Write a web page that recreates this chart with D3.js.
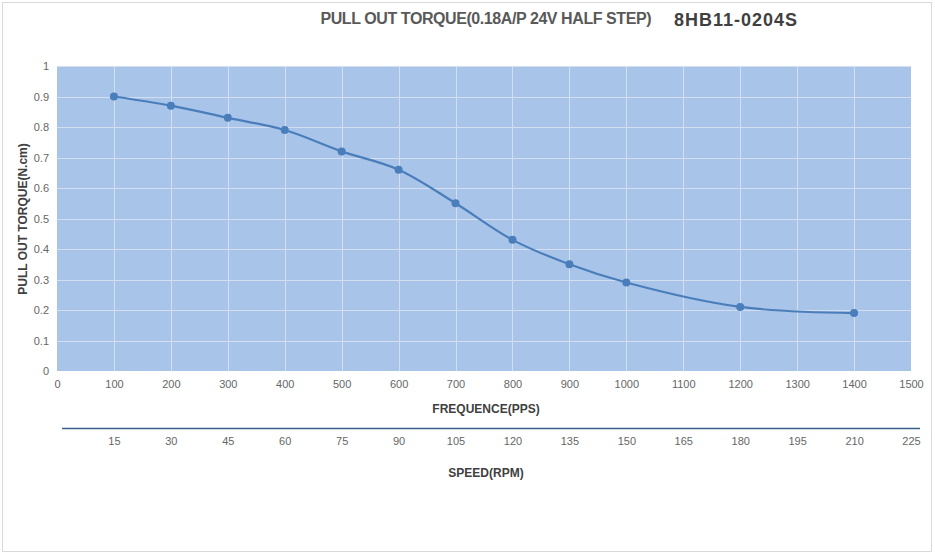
<!DOCTYPE html>
<html>
<head>
<meta charset="utf-8">
<script src="https://cdn.jsdelivr.net/npm/d3@7"></script>
<style>
  body { margin: 0; background: #fff; }
  text { font-family: "Liberation Sans Narrow", "Liberation Sans", Arial, sans-serif; }
</style>
</head>
<body>
<svg id="chart" width="935" height="557"></svg>
<script>
// chart data
var frequency = [100, 200, 300, 400, 500, 600, 700, 800, 900, 1000, 1200, 1400];
var torque = [0.9, 0.87, 0.83, 0.79, 0.72, 0.66, 0.55, 0.43, 0.35, 0.29, 0.21, 0.19];
var freqTicks = [0, 100, 200, 300, 400, 500, 600, 700, 800, 900, 1000, 1100, 1200, 1300, 1400, 1500];
var torqueTicks = [0, 0.1, 0.2, 0.3, 0.4, 0.5, 0.6, 0.7, 0.8, 0.9, 1];
var speedTicks = [15, 30, 45, 60, 75, 90, 105, 120, 135, 150, 165, 180, 195, 210, 225];

var svg = d3.select("#chart");

// outer frame
svg.append("rect")
    .attr("x", 2.5).attr("y", 2.5)
    .attr("width", 929).attr("height", 549)
    .attr("fill", "#fff")
    .attr("stroke", "#d9d9d9");

// scales
var x = d3.scaleLinear().domain([0, 1500]).range([57, 911]);
var y = d3.scaleLinear().domain([0, 1]).range([371, 66]);
var xs = d3.scaleLinear().domain([0, 225]).range([57, 911]);

// plot background
svg.append("rect")
    .attr("x", x(0)).attr("y", y(1))
    .attr("width", x(1500) - x(0)).attr("height", y(0) - y(1))
    .attr("fill", "#a9c4e9");

// grid
svg.append("g").selectAll("line.h")
    .data(torqueTicks.slice(1))
    .enter().append("line")
    .attr("x1", x(0)).attr("x2", x(1500))
    .attr("y1", function (d) { return Math.round(y(d)) + 0.5; })
    .attr("y2", function (d) { return Math.round(y(d)) + 0.5; })
    .attr("stroke", "#d3dff0").attr("stroke-width", 1);

svg.append("g").selectAll("line.v")
    .data(freqTicks.slice(1, -1))
    .enter().append("line")
    .attr("y1", y(0)).attr("y2", y(1))
    .attr("x1", function (d) { return Math.round(x(d)) + 0.5; })
    .attr("x2", function (d) { return Math.round(x(d)) + 0.5; })
    .attr("stroke", "#d3dff0").attr("stroke-width", 1);

// y axis
var yAxis = svg.append("g")
    .attr("transform", "translate(" + x(0) + ",0)")
    .call(d3.axisLeft(y).tickValues(torqueTicks).tickSize(0).tickPadding(8)
        .tickFormat(function (d) { return d === 0 || d === 1 ? d : d3.format(".1f")(d); }));
yAxis.select(".domain").remove();
yAxis.selectAll("text").attr("fill", "#666").style("font-size", "11px");

// x axis
var xAxis = svg.append("g")
    .attr("transform", "translate(0," + y(0) + ")")
    .call(d3.axisBottom(x).tickValues(freqTicks).tickSize(0).tickPadding(9)
        .tickFormat(d3.format("d")));
xAxis.select(".domain").remove();
xAxis.selectAll("text").attr("fill", "#666").style("font-size", "11px");

// speed axis
svg.append("line")
    .attr("x1", 62).attr("x2", 920)
    .attr("y1", 428.5).attr("y2", 428.5)
    .attr("stroke", "#3b5f8a").attr("stroke-width", 1.3);

var sAxis = svg.append("g")
    .attr("transform", "translate(0,428)")
    .call(d3.axisBottom(xs).tickValues(speedTicks).tickSize(0).tickPadding(9)
        .tickFormat(d3.format("d")));
sAxis.select(".domain").remove();
sAxis.selectAll("text").attr("fill", "#666").style("font-size", "11px");

// curve
var pts = frequency.map(function (f, i) { return [f, torque[i]]; });
var line = d3.line()
    .x(function (d) { return x(d[0]); })
    .y(function (d) { return y(d[1]); })
    .curve(d3.curveCatmullRom.alpha(0.5));

svg.append("path")
    .datum(pts)
    .attr("d", line)
    .attr("fill", "none")
    .attr("stroke", "#4a7ebb")
    .attr("stroke-width", 2.2);

svg.append("g").selectAll("circle")
    .data(pts)
    .enter().append("circle")
    .attr("cx", function (d) { return x(d[0]); })
    .attr("cy", function (d) { return y(d[1]); })
    .attr("r", 4)
    .attr("fill", "#4a7ebb");

// titles
svg.append("text")
    .attr("x", 486).attr("y", 24)
    .attr("text-anchor", "middle")
    .attr("fill", "#595959")
    .style("font-size", "16px").style("font-weight", "bold")
    .attr("textLength", 331)
    .text("PULL OUT TORQUE(0.18A/P 24V HALF STEP)");

svg.append("text")
    .attr("x", 674).attr("y", 26)
    .attr("fill", "#404040")
    .style("font-family", "'Liberation Sans', Arial, sans-serif")
    .style("font-size", "18px").style("font-weight", "bold")
    .attr("textLength", 123)
    .text("8HB11-0204S");

svg.append("text")
    .attr("x", 486).attr("y", 413)
    .attr("text-anchor", "middle")
    .attr("fill", "#404040")
    .style("font-size", "12px").style("font-weight", "bold")
    .text("FREQUENCE(PPS)");

svg.append("text")
    .attr("x", 486).attr("y", 477)
    .attr("text-anchor", "middle")
    .attr("fill", "#404040")
    .style("font-size", "12px").style("font-weight", "bold")
    .text("SPEED(RPM)");

svg.append("text")
    .attr("transform", "translate(27,219) rotate(-90)")
    .attr("text-anchor", "middle")
    .attr("fill", "#404040")
    .style("font-size", "12px").style("font-weight", "bold")
    .text("PULL OUT TORQUE(N.cm)");
</script>
</body>
</html>
